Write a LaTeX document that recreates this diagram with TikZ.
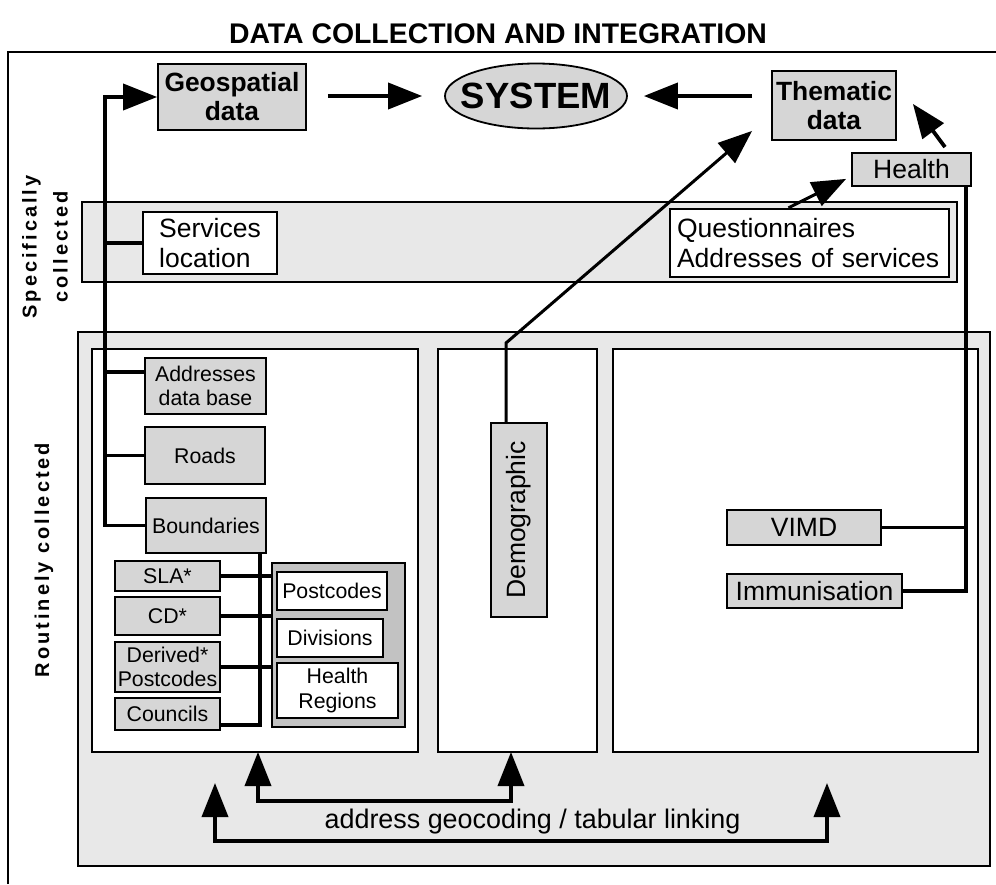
\documentclass[tikz,border=0pt]{standalone}
\usepackage{fontspec}
\setmainfont{Liberation Sans}
\usetikzlibrary{arrows.meta,calc,shapes.geometric}

\tikzset{
  frame/.style={line width=1.8pt},
  box/.style={draw, line width=1.8pt, fill=boxcol, inner sep=1pt, align=center,
    font=\fontsize{26.5}{30}\selectfont},
  sbox/.style={box, font=\fontsize{21.3}{24.5}\selectfont},
  wbox/.style={sbox, fill=white, line width=2.4pt},
  bigbold/.style={font=\bfseries\fontsize{26.4}{29}\selectfont},
  side/.style={align=center, rotate=90,
    font=\bfseries\fontsize{20}{31}\selectfont\addfontfeature{LetterSpace=15}},
  conn/.style={line width=3.8pt},
  arr/.style={-{Triangle[length=34pt,width=26pt]}},
  darr/.style={{Triangle[length=34pt,width=26pt]}-{Triangle[length=34pt,width=26pt]}}
}

\begin{document}
\begin{tikzpicture}[x=1pt,y=-1pt]

  \definecolor{boxcol}{gray}{0.84}
  \definecolor{bandcol}{gray}{0.91}
  \definecolor{grpcol}{gray}{0.76}

  \useasboundingbox (0,0) rectangle (996,884);

  \node[font=\bfseries\fontsize{28.4}{34}\selectfont, anchor=base] (title) at (498,43)
    {DATA COLLECTION AND INTEGRATION};

  % frame and bands
  \draw[line width=2.5pt] (8,884) |- (996,52);
  \draw[frame, fill=bandcol] (82,202) rectangle (957,282);
  \draw[frame, fill=bandcol] (78,332) rectangle (990,866);
  \draw[frame, fill=white] (92,349) rectangle (418,752);
  \draw[frame, fill=white] (438,349) rectangle (597,752);
  \draw[frame, fill=white] (613,349) rectangle (978,752);

  \node[side] (spec) at (45,247) {Specifically\\collected};
  \node[side] (rout) at (44,560) {Routinely collected};

  % top row
  \node[box, bigbold, minimum width=148pt, minimum height=66pt] (geo) at (232,97) {Geospatial\\data};
  \node[ellipse, draw, line width=1.8pt, fill=boxcol, minimum width=182pt, minimum height=65pt,
    inner sep=0pt, font=\bfseries\fontsize{36.5}{40}\selectfont] (sys) at (536,96) {\makebox[0pt]{SYSTEM}};
  \node[box, bigbold, minimum width=124pt, minimum height=69pt] (them) at (834,105.5) {Thematic\\data};
  \node[box, minimum width=119pt, minimum height=33pt] (health) at (911.5,169.5) {Health};

  % specifically collected
  \node[box, fill=white, line width=2.2pt, align=left, minimum width=134pt, minimum height=62pt] (svc)
    at (210,243) {Services\\location};
  \node[box, fill=white, line width=2.4pt, align=left, text width=265pt, inner sep=7pt,
    minimum height=68pt] (quest) at (809.5,243) {Questionnaires\\Addresses of services};

  % routinely collected, geospatial
  \node[sbox, minimum width=121pt, minimum height=56pt] (adb) at (205.5,386) {Addresses\\data base};
  \node[sbox, minimum width=120pt, minimum height=57pt] (roads) at (205,455.5) {Roads};
  \node[sbox, minimum width=120pt, minimum height=55pt] (bnd) at (206,525.5) {Boundaries};
  \node[sbox, minimum width=105pt, minimum height=30pt] (sla) at (167.5,576) {SLA*};
  \node[sbox, minimum width=105pt, minimum height=38pt] (cd) at (167.5,616) {CD*};
  \node[sbox, minimum width=105pt, minimum height=50pt] (der) at (167.5,667) {Derived*\\Postcodes};
  \node[sbox, minimum width=105pt, minimum height=32pt] (cou) at (167.5,714) {Councils};

  \node[draw, line width=1.8pt, fill=grpcol, minimum width=133pt, minimum height=164pt] (grp)
    at (338.5,645) {};
  \node[wbox, minimum width=110pt, minimum height=38pt] (pc) at (332,591) {Postcodes};
  \node[wbox, minimum width=106pt, minimum height=38pt] (div) at (330,638) {Divisions};
  \node[wbox, minimum width=121pt, minimum height=55pt] (hr) at (337.5,690.5) {Health\\Regions};

  % demographic and health data
  \node[box, rotate=90, minimum width=194pt, minimum height=56pt] (demo) at (519,520) {Demographic};
  \node[box, minimum width=154pt, minimum height=35pt] (vimd) at (804,527.5) {VIMD};
  \node[box, minimum width=175pt, minimum height=34pt] (imm) at (814.5,591) {Immunisation};

  \node[font=\fontsize{26.9}{30}\selectfont, anchor=base] (link) at (532.5,828)
    {address geocoding / tabular linking};

  % into the system
  \draw[conn, arr, shorten <=21pt, shorten >=22pt] (geo.east |- sys.west) -- (sys.west);
  \draw[conn, arr, shorten <=19pt, shorten >=16pt] (sys.east -| them.west) -- (sys.east);

  % geospatial spine
  \coordinate (spine) at (105,97);
  \coordinate (adbin) at ($(adb.west)+(0,-14)$);
  \draw[conn, arr] (bnd.west) -| (spine) -- (geo.west);
  \draw[conn] (adbin) -- (adbin -| spine);
  \draw[conn] (roads.west) -- (roads.west -| spine);
  \draw[conn] (svc.west) -- (svc.west -| spine);

  % boundaries tree
  \coordinate (btree) at (260,553);
  \draw[conn] (btree) |- ($(cou.east)+(0,11)$);
  \draw[conn] (sla.east) -- (sla.east -| grp.west);
  \draw[conn] (cd.east) -- (cd.east -| grp.west);
  \draw[conn] (der.east) -- (der.east -| grp.west);

  % thematic
  \coordinate (dkink) at (506,343);
  \coordinate (dtip) at ($(them.south west)+(-19,-10)$);
  \draw[line width=3pt, arr] (dkink |- demo.east) -- (dkink) -- (dtip);
  \coordinate (htip) at ($(them.south east)+(16,-37)$);
  \draw[conn, arr] ($(health.north)+(33.5,-5)$) -- (htip);
  \coordinate (qtip) at ($(health.south west)+(-5,-8)$);
  \draw[line width=3pt, arr] ($(quest.north)+(-21,0)$) -- (qtip);
  \coordinate (hx) at (966,0);
  \draw[conn] (imm.east) -- (imm.east -| hx) -- (hx |- health.south);
  \draw[conn] (vimd.east) -- (vimd.east -| hx);

  % linking
  \coordinate (lpa) at (258,752);
  \coordinate (mpa) at (511,752);
  \coordinate (lpb) at (215,783);
  \coordinate (rpb) at (827,783);
  \draw[conn, darr] (lpa) -- ++(0,49) -| (mpa);
  \draw[conn, darr] (lpb) -- ++(0,58) -| (rpb);

\end{tikzpicture}
\end{document}
